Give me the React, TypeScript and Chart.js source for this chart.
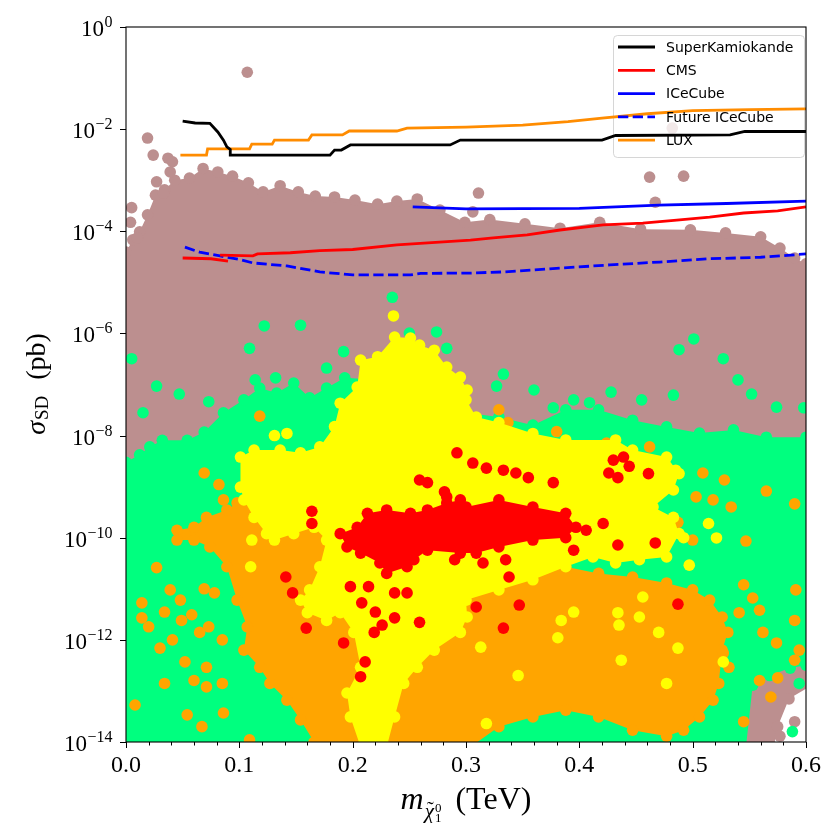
import React, { useEffect, useRef } from "react";
import { Chart, registerables } from "chart.js";
Chart.register(...registerables);

// ---------------- axis ----------------
const X_MIN = 0;
const X_MAX = 0.6;
const Y_MIN = 1e-14;
const Y_MAX = 1;
const xMajorTicks = [0, 0.1, 0.2, 0.3, 0.4, 0.5, 0.6];
const xTickLabels = ["0.0", "0.1", "0.2", "0.3", "0.4", "0.5", "0.6"];
const xMinorTicks = [0.02, 0.04, 0.06, 0.08, 0.12, 0.14, 0.16, 0.18, 0.22, 0.24, 0.26, 0.28, 0.32, 0.34, 0.36, 0.38, 0.42, 0.44, 0.46, 0.48, 0.52, 0.54, 0.56, 0.58];
const yTickExponents = [0, -2, -4, -6, -8, -10, -12, -14];

// ---------------- limit curves ----------------
const superKX = [0.05, 0.061, 0.074, 0.081, 0.086, 0.089, 0.092, 0.092, 0.18, 0.184, 0.19, 0.198, 0.286, 0.295, 0.42, 0.432, 0.533, 0.546, 0.6];
const superKY = [1.44e-2, 1.32e-2, 1.3e-2, 8.8e-3, 6.1e-3, 4.5e-3, 4e-3, 3.1e-3, 3.1e-3, 3.9e-3, 3.9e-3, 4.9e-3, 4.9e-3, 6.1e-3, 6.1e-3, 7.5e-3, 7.7e-3, 9.0e-3, 9.0e-3];

const cmsX1 = [0.05, 0.075, 0.09];
const cmsY1 = [3.0e-5, 2.9e-5, 2.6e-5];
const cmsX2 = [0.083, 0.112, 0.116, 0.145, 0.171, 0.2, 0.239, 0.304, 0.324, 0.354, 0.383, 0.421, 0.456, 0.486, 0.515, 0.545, 0.575, 0.6];
const cmsY2 = [3.4e-5, 3.3e-5, 3.6e-5, 3.8e-5, 4.2e-5, 4.4e-5, 5.4e-5, 6.7e-5, 7.4e-5, 8.5e-5, 1.06e-4, 1.33e-4, 1.45e-4, 1.66e-4, 1.9e-4, 2.28e-4, 2.5e-4, 3.0e-4];

const iceCubeX = [0.253, 0.3, 0.4, 0.47, 0.53, 0.6];
const iceCubeY = [3.0e-4, 2.75e-4, 2.8e-4, 3.25e-4, 3.5e-4, 3.9e-4];

const futureX = [0.052, 0.065, 0.083, 0.1, 0.112, 0.142, 0.171, 0.2, 0.251, 0.26, 0.304, 0.333, 0.383, 0.427, 0.471, 0.515, 0.56, 0.6];
const futureY = [4.9e-5, 3.9e-5, 3.3e-5, 2.8e-5, 2.4e-5, 2.1e-5, 1.6e-5, 1.4e-5, 1.4e-5, 1.5e-5, 1.52e-5, 1.6e-5, 1.9e-5, 2.2e-5, 2.5e-5, 2.9e-5, 3.1e-5, 3.6e-5];

const luxX = [0.048, 0.071, 0.072, 0.109, 0.111, 0.129, 0.131, 0.161, 0.164, 0.191, 0.197, 0.239, 0.248, 0.3, 0.35, 0.39, 0.42, 0.46, 0.5, 0.55, 0.6];
const luxY = [3.1e-3, 3.1e-3, 4.1e-3, 4.1e-3, 5.1e-3, 5.1e-3, 6.1e-3, 6.1e-3, 7.7e-3, 7.7e-3, 9.2e-3, 9.2e-3, 1.05e-2, 1.1e-2, 1.2e-2, 1.4e-2, 1.65e-2, 2.0e-2, 2.3e-2, 2.4e-2, 2.5e-2];

const legendLabels = ["SuperKamiokande", "CMS", "ICeCube", "Future ICeCube", "LUX"];

// ---------------- scan points: dense regions (outline points) ----------------
const brownEdgeX = [-0.01, -0.01, 0, 0.006, 0.012, 0.019, 0.026, 0.034, 0.043, 0.056, 0.068, 0.081, 0.094, 0.108, 0.121, 0.136, 0.152, 0.167, 0.184, 0.202, 0.222, 0.239, 0.257, 0.277, 0.299, 0.321, 0.352, 0.383, 0.418, 0.454, 0.498, 0.529, 0.56, 0.577, 0.59, 0.6, 0.61, 0.61, 0.585, 0.575, 0.57];
const brownEdgeY = [5e-15, 3.9e-5, 3.9e-5, 6.8e-5, 9.8e-5, 2.1e-4, 5.1e-4, 6.5e-4, 1.0e-3, 1.1e-3, 1.7e-3, 1.45e-3, 1.2e-3, 8.9e-4, 5.9e-4, 7.8e-4, 5.9e-4, 4.9e-4, 4.7e-4, 4.1e-4, 3.4e-4, 3.9e-4, 4.3e-4, 2.6e-4, 1.5e-4, 1.7e-4, 1.4e-4, 1.15e-4, 1.5e-4, 1.1e-4, 1.07e-4, 9.3e-5, 7.8e-5, 4.7e-5, 3.0e-5, 2.3e-5, 2.3e-5, 1.5e-13, 7e-14, 2e-14, 5e-15];
const brownDotX = [0.005, 0.004, 0.01, 0.019, 0.024, 0.027, 0.033, 0.037, 0.039, 0.041, 0.107, 0.311, 0.462, 0.492, 0.467, 0.482, 0.306, 0.59, 0.577];
const brownDotY = [2.9e-4, 1.5e-4, 7.4e-5, 6.7e-3, 3.1e-3, 9.3e-4, 5.6e-4, 2.7e-3, 1.45e-3, 2.3e-3, 0.13, 5.6e-4, 1.15e-3, 1.2e-3, 3.7e-4, 1.05e-2, 2.4e-4, 2.5e-14, 1.3e-14];

const greenEdgeX = [-0.01, -0.01, 0, 0.012, 0.021, 0.032, 0.054, 0.069, 0.086, 0.104, 0.118, 0.133, 0.148, 0.162, 0.177, 0.193, 0.224, 0.259, 0.286, 0.3, 0.329, 0.359, 0.388, 0.417, 0.447, 0.477, 0.506, 0.536, 0.565, 0.6, 0.61, 0.61, 0.6, 0.586, 0.568, 0.553, 0.546];
const greenEdgeY = [5e-15, 3.0e-9, 3.0e-9, 4.2e-9, 6.0e-9, 8.1e-9, 8.1e-9, 1.17e-8, 2.8e-8, 5.0e-8, 8.5e-8, 6.8e-8, 1.07e-7, 5.5e-8, 8.5e-8, 1.35e-7, 1.23e-7, 7.8e-8, 4.0e-8, 2.8e-8, 2.3e-8, 1.6e-8, 3.2e-8, 3.2e-8, 2.0e-8, 1.48e-8, 1.12e-8, 1.29e-8, 9.3e-9, 9.3e-9, 9.3e-9, 3.2e-13, 3.2e-13, 2.8e-13, 2.0e-13, 1.3e-13, 5e-15];
const greenDotX = [0.005, 0.027, 0.047, 0.073, 0.109, 0.122, 0.154, 0.132, 0.114, 0.177, 0.192, 0.274, 0.235, 0.25, 0.283, 0.015, 0.501, 0.488, 0.527, 0.54, 0.552, 0.574, 0.598, 0.483, 0.455, 0.409, 0.428, 0.395, 0.377, 0.36, 0.333, 0.327, 0.594, 0.588];
const greenDotY = [3.2e-7, 9.3e-8, 6.5e-8, 4.6e-8, 5.1e-7, 1.4e-6, 1.45e-6, 1.35e-7, 1.23e-7, 2.1e-7, 4.4e-7, 1.07e-6, 5.1e-6, 1.02e-6, 5.1e-7, 2.8e-8, 7.8e-7, 4.8e-7, 3.2e-7, 1.23e-7, 6.5e-8, 3.6e-8, 3.5e-8, 6.2e-8, 5.0e-8, 4.4e-8, 7.1e-8, 5.0e-8, 3.5e-8, 7.8e-8, 1.6e-7, 9.3e-8, 1.4e-13, 1.6e-14];

const orangeEdgeX = [0.045, 0.06, 0.071, 0.089, 0.098, 0.118, 0.148, 0.177, 0.192, 0.242, 0.3, 0.33, 0.359, 0.388, 0.417, 0.447, 0.477, 0.5, 0.515, 0.526, 0.531, 0.526, 0.523, 0.518, 0.506, 0.492, 0.477, 0.447, 0.417, 0.388, 0.359, 0.329, 0.304, 0.184, 0.166, 0.154, 0.142, 0.127, 0.118, 0.104, 0.107, 0.098, 0.089, 0.074, 0.06, 0.045];
const orangeEdgeY = [1.4e-10, 1.6e-10, 2.5e-10, 3.5e-10, 4.8e-10, 5.5e-10, 5.5e-10, 8.6e-10, 9.8e-10, 2.2e-10, 9.0e-11, 3.7e-11, 2.0e-11, 2.7e-11, 2.0e-11, 1.7e-11, 1.3e-11, 9.5e-12, 6.0e-12, 2.8e-12, 1.4e-12, 6.3e-13, 1.4e-13, 6.6e-14, 3.1e-14, 1.7e-14, 1.3e-14, 1.7e-14, 3.1e-14, 4.2e-14, 3.1e-14, 2.0e-14, 8e-15, 8e-15, 1.0e-14, 2.7e-14, 6.6e-14, 1.4e-13, 2.9e-13, 6.3e-13, 1.8e-12, 6.0e-12, 2.7e-11, 6.6e-11, 9.0e-11, 9.0e-11];
const orangeDotX = [0.509, 0.528, 0.565, 0.59, 0.503, 0.518, 0.534, 0.487, 0.547, 0.5, 0.545, 0.553, 0.559, 0.541, 0.591, 0.59, 0.594, 0.562, 0.574, 0.559, 0.569, 0.545, 0.532, 0.527, 0.575, 0.59, 0.329, 0.337, 0.38, 0.424, 0.462, 0.29, 0.069, 0.082, 0.086, 0.118, 0.027, 0.014, 0.014, 0.02, 0.034, 0.039, 0.048, 0.049, 0.058, 0.069, 0.078, 0.073, 0.065, 0.052, 0.041, 0.03, 0.071, 0.085, 0.008, 0.034, 0.06, 0.067, 0.086, 0.054, 0.109, 0.071, 0.085];
const orangeDotY = [1.85e-9, 1.35e-9, 8.2e-10, 4.6e-10, 6.3e-10, 5.5e-10, 4.0e-10, 2.0e-10, 8.6e-11, 9.0e-11, 1.2e-11, 6.6e-12, 3.8e-12, 3.4e-12, 9.5e-12, 2.4e-12, 6.3e-13, 1.4e-12, 8.7e-13, 1.6e-13, 7.6e-14, 2.5e-14, 2.9e-13, 5.5e-13, 1.8e-13, 4.0e-13, 3.2e-8, 1.8e-8, 1.2e-8, 7.1e-9, 6.0e-9, 1.5e-8, 1.85e-9, 1.1e-9, 5.5e-10, 2.4e-8, 2.6e-11, 5.3e-12, 2.7e-12, 1.8e-12, 3.5e-12, 9.5e-12, 6.0e-12, 2.4e-12, 3.1e-12, 1.0e-11, 8.3e-12, 1.8e-12, 1.4e-12, 3.7e-13, 1.0e-12, 6.9e-13, 2.9e-13, 1.0e-12, 5.3e-14, 1.4e-13, 1.6e-13, 2.0e-14, 3.7e-14, 3.4e-14, 1.1e-14, 1.2e-13, 1.4e-13];

const yellowEdgeX = [0.237, 0.251, 0.259, 0.272, 0.283, 0.295, 0.301, 0.3, 0.309, 0.329, 0.359, 0.388, 0.432, 0.447, 0.477, 0.488, 0.483, 0.465, 0.483, 0.488, 0.477, 0.453, 0.432, 0.412, 0.388, 0.359, 0.329, 0.3, 0.301, 0.295, 0.272, 0.257, 0.245, 0.237, 0.23, 0.207, 0.198, 0.195, 0.207, 0.201, 0.189, 0.177, 0.16, 0.154, 0.162, 0.171, 0.177, 0.166, 0.148, 0.131, 0.124, 0.113, 0.104, 0.101, 0.101, 0.113, 0.136, 0.154, 0.171, 0.184, 0.189, 0.204, 0.207, 0.222];
const yellowEdgeY = [8.5e-7, 8.1e-7, 5.9e-7, 4.7e-7, 2.2e-7, 1.4e-7, 7.8e-8, 5.0e-8, 2.3e-8, 1.8e-8, 1.1e-8, 8.2e-9, 8.2e-9, 5.2e-9, 3.8e-9, 1.8e-9, 8.6e-10, 4.0e-10, 2.5e-10, 1.2e-10, 4.2e-11, 3.7e-11, 3.2e-11, 4.2e-11, 2.7e-11, 1.5e-11, 9.5e-12, 6.0e-12, 2.8e-12, 1.4e-12, 6.3e-13, 2.9e-13, 1.4e-13, 3.1e-14, 8e-15, 8e-15, 3.1e-14, 9.1e-14, 2.9e-13, 1.4e-12, 3.4e-12, 2.4e-12, 3.4e-12, 6.0e-12, 9.5e-12, 2.7e-11, 9.0e-11, 1.6e-10, 1.2e-10, 9.0e-11, 1.2e-10, 2.5e-10, 5.5e-10, 9.8e-10, 3.8e-9, 5.2e-9, 5.2e-9, 4.6e-9, 6.0e-9, 1.5e-8, 4.3e-8, 8.9e-8, 3.0e-7, 3.5e-7];
const yellowDotX = [0.236, 0.131, 0.142, 0.11, 0.111, 0.485, 0.492, 0.514, 0.521, 0.497, 0.456, 0.434, 0.453, 0.435, 0.47, 0.487, 0.437, 0.477, 0.527, 0.395, 0.384, 0.381, 0.346, 0.313, 0.318];
const yellowDotY = [2.2e-6, 1.0e-8, 1.1e-8, 2.7e-11, 9.0e-11, 2.1e-9, 1.0e-10, 1.9e-10, 9.9e-11, 2.9e-11, 6.9e-12, 3.4e-12, 2.8e-12, 1.95e-12, 1.4e-12, 6.9e-13, 4.0e-13, 1.4e-13, 3.7e-13, 3.5e-12, 2.4e-12, 1.1e-12, 2.0e-13, 7.2e-13, 2.3e-14];

const redEdgeX = [0.189, 0.204, 0.213, 0.23, 0.251, 0.266, 0.283, 0.295, 0.3, 0.329, 0.359, 0.388, 0.397, 0.388, 0.359, 0.329, 0.309, 0.295, 0.266, 0.254, 0.248, 0.23, 0.224, 0.207, 0.195];
const redEdgeY = [1.2e-10, 1.6e-10, 3.0e-10, 3.5e-10, 3.0e-10, 3.5e-10, 4.8e-10, 5.5e-10, 4.0e-10, 5.5e-10, 4.0e-10, 3.0e-10, 1.6e-10, 1.0e-10, 9.0e-11, 6.6e-11, 5.0e-11, 5.0e-11, 5.7e-11, 3.7e-11, 2.7e-11, 2.0e-11, 3.2e-11, 5.0e-11, 6.6e-11];
const redDotX = [0.164, 0.164, 0.141, 0.147, 0.159, 0.192, 0.211, 0.207, 0.198, 0.208, 0.214, 0.22, 0.219, 0.226, 0.237, 0.259, 0.237, 0.248, 0.259, 0.266, 0.292, 0.281, 0.283, 0.29, 0.306, 0.318, 0.333, 0.344, 0.355, 0.377, 0.406, 0.395, 0.335, 0.315, 0.338, 0.309, 0.347, 0.333, 0.434, 0.467, 0.487, 0.43, 0.439, 0.444, 0.426, 0.434, 0.461, 0.421];
const redDotY = [3.3e-10, 1.9e-10, 1.7e-11, 8.3e-12, 1.7e-12, 8.7e-13, 3.7e-13, 1.9e-13, 1.1e-11, 5.3e-12, 1.1e-11, 3.5e-12, 1.4e-12, 1.95e-12, 2.7e-12, 2.2e-12, 8.3e-12, 8.3e-12, 1.35e-9, 1.2e-9, 4.6e-9, 7.9e-10, 6.3e-10, 3.7e-11, 2.9e-9, 2.3e-9, 2.1e-9, 1.85e-9, 1.5e-9, 1.2e-9, 1.4e-10, 5.7e-11, 3.7e-11, 3.2e-11, 1.7e-11, 4.4e-12, 4.8e-12, 1.7e-12, 7.2e-11, 7.9e-11, 5.0e-12, 3.3e-9, 3.8e-9, 2.5e-9, 1.85e-9, 1.5e-9, 1.8e-9, 1.9e-10];

// ---------------- helpers ----------------
const pts = (xs: number[], ys: number[]) => xs.map((x, i) => ({ x, y: ys[i] }));
const R = 5.8;
const BROWN = "#bc8f8f";
const GREEN = "#00ff7f";
const ORANGE = "#ffa500";
const YELLOW = "#ffff00";
const RED = "#ff0000";

function region(label: string, xs: number[], ys: number[], color: string, order: number) {
  return {
    type: "line" as const,
    label,
    data: pts(xs, ys),
    order,
    borderWidth: 0,
    borderColor: color,
    backgroundColor: color,
    fill: "shape",
    tension: 0,
    pointRadius: R,
    pointHoverRadius: R,
    pointBackgroundColor: color,
    pointBorderWidth: 0,
  };
}
function dots(label: string, xs: number[], ys: number[], color: string, order: number) {
  return {
    type: "scatter" as const,
    label,
    data: pts(xs, ys),
    order,
    pointRadius: R,
    pointHoverRadius: R,
    backgroundColor: color,
    borderWidth: 0,
  };
}
function curve(label: string, xs: number[], ys: number[], color: string, dash: number[] = []) {
  return {
    type: "line" as const,
    label,
    data: pts(xs, ys),
    order: 0,
    borderColor: color,
    borderWidth: 2.8,
    borderDash: dash,
    pointRadius: 0,
    fill: false,
    tension: 0,
  };
}

const legendStyles = [
  { color: "#000000", dash: [] as number[] },
  { color: "#ff0000", dash: [] as number[] },
  { color: "#0000ff", dash: [] as number[] },
  { color: "#0000ff", dash: [10.3, 4.4] },
  { color: "#ff8c00", dash: [] as number[] },
];

function roundRect(ctx: CanvasRenderingContext2D, x: number, y: number, w: number, h: number, r: number) {
  ctx.beginPath();
  ctx.moveTo(x + r, y);
  ctx.lineTo(x + w - r, y);
  ctx.quadraticCurveTo(x + w, y, x + w, y + r);
  ctx.lineTo(x + w, y + h - r);
  ctx.quadraticCurveTo(x + w, y + h, x + w - r, y + h);
  ctx.lineTo(x + r, y + h);
  ctx.quadraticCurveTo(x, y + h, x, y + h - r);
  ctx.lineTo(x, y + r);
  ctx.quadraticCurveTo(x, y, x + r, y);
  ctx.closePath();
}

function legendBox(chart: any) {
  const a = chart.chartArea;
  return { x: a.right - 193, y: a.top + 8, w: 191, h: 122 };
}

const decorPlugin = {
  id: "decor",
  afterDatasetDraw(chart: any, args: any) {
    const ds = chart.data.datasets[args.index];
    if (!ds || ds.label !== "red points") return;
    const ctx = chart.ctx as CanvasRenderingContext2D;
    const b = legendBox(chart);
    ctx.save();
    roundRect(ctx, b.x + 0.5, b.y + 0.5, b.w, b.h, 4);
    ctx.fillStyle = "rgba(255,255,255,0.8)";
    ctx.fill();
    ctx.strokeStyle = "rgba(204,204,204,0.8)";
    ctx.lineWidth = 1;
    ctx.stroke();
    ctx.restore();
  },
  afterDraw(chart: any) {
    const ctx = chart.ctx as CanvasRenderingContext2D;
    const a = chart.chartArea;
    const xs = chart.scales.x;
    const ys = chart.scales.y;
    ctx.save();
    // frame
    ctx.strokeStyle = "#000";
    ctx.lineWidth = 1.1;
    ctx.strokeRect(a.left, a.top, a.right - a.left, a.bottom - a.top);
    // x ticks
    ctx.lineWidth = 1;
    for (const v of xMajorTicks) {
      const px = Math.round(xs.getPixelForValue(v)) + 0.5;
      ctx.beginPath();
      ctx.moveTo(px, a.bottom);
      ctx.lineTo(px, a.bottom + 6);
      ctx.stroke();
    }
    for (const v of xMinorTicks) {
      const px = Math.round(xs.getPixelForValue(v)) + 0.5;
      ctx.beginPath();
      ctx.moveTo(px, a.bottom);
      ctx.lineTo(px, a.bottom + 3.5);
      ctx.stroke();
    }
    ctx.fillStyle = "#000";
    ctx.font = '24px "Liberation Serif"';
    ctx.textAlign = "center";
    ctx.textBaseline = "alphabetic";
    xMajorTicks.forEach((v, i) => {
      ctx.fillText(xTickLabels[i], xs.getPixelForValue(v), a.bottom + 30);
    });
    // y ticks
    for (const e of yTickExponents) {
      const py = Math.round(ys.getPixelForValue(Math.pow(10, e))) + 0.5;
      ctx.beginPath();
      ctx.moveTo(a.left - 6, py);
      ctx.lineTo(a.left, py);
      ctx.stroke();
      const sup = e === 0 ? "0" : "\u2212" + String(-e);
      ctx.textAlign = "left";
      ctx.font = '16px "Liberation Serif"';
      const ws = ctx.measureText(sup).width;
      ctx.font = '23px "Liberation Serif"';
      const wm = ctx.measureText("10").width;
      const right = a.left - 14;
      const x0 = right - ws - wm;
      ctx.fillText("10", x0, py + 8.5);
      ctx.font = '16px "Liberation Serif"';
      ctx.fillText(sup, x0 + wm + 0.5, py - 0.5);
    }
    // y label
    ctx.save();
    ctx.translate(45, 384);
    ctx.rotate(-Math.PI / 2);
    ctx.textAlign = "left";
    const f1 = 'italic 28px "Liberation Serif"';
    const f2 = '19px "Liberation Serif"';
    const f3 = '28px "Liberation Serif"';
    ctx.font = f1;
    const w1 = ctx.measureText("\u03c3").width;
    ctx.font = f2;
    const w2 = ctx.measureText("SD").width;
    ctx.font = f3;
    const w3 = ctx.measureText("(pb)").width;
    const gap = 16;
    const tot = w1 + 1 + w2 + gap + w3;
    let tx = -tot / 2;
    ctx.font = f1;
    ctx.fillText("\u03c3", tx, 0);
    tx += w1 + 1;
    ctx.font = f2;
    ctx.fillText("SD", tx, 3);
    tx += w2 + gap;
    ctx.font = f3;
    ctx.fillText("(pb)", tx, 0);
    ctx.restore();
    // x label
    {
      const base = 809;
      const fm = 'italic 32px "Liberation Serif"';
      const fc = 'italic 21px "Liberation Serif"';
      const fs = '13px "Liberation Serif"';
      const ft = '32px "Liberation Serif"';
      ctx.font = fm;
      const wm = ctx.measureText("m").width;
      ctx.font = fc;
      const wc = ctx.measureText("\u03c7").width;
      ctx.font = fs;
      const wsc = ctx.measureText("0").width;
      ctx.font = ft;
      const wt = ctx.measureText("(TeV)").width;
      const g = 14;
      const total = wm + 1 + wc + 1 + wsc + g + wt;
      let x = 466 - total / 2;
      ctx.textAlign = "left";
      ctx.font = fm;
      ctx.fillText("m", x, base);
      x += wm + 1;
      ctx.font = fc;
      ctx.fillText("\u03c7", x, base + 9);
      ctx.font = '21px "Liberation Serif"';
      ctx.textAlign = "center";
      ctx.fillText("\u02dc", x + wc / 2 + 1, base + 7);
      ctx.textAlign = "left";
      x += wc + 1;
      ctx.font = fs;
      ctx.fillText("0", x, base + 3);
      ctx.fillText("1", x, base + 13);
      x += wsc + g;
      ctx.font = ft;
      ctx.fillText("(TeV)", x, base);
    }
    // legend entries
    const b = legendBox(chart);
    ctx.font = '14px "DejaVu Sans"';
    ctx.textAlign = "left";
    ctx.textBaseline = "middle";
    legendLabels.forEach((lab, i) => {
      const yy = b.y + 12 + i * 23.3;
      const st = legendStyles[i];
      ctx.strokeStyle = st.color;
      ctx.lineWidth = 2.8;
      ctx.setLineDash(st.dash);
      ctx.beginPath();
      ctx.moveTo(b.x + 5, yy);
      ctx.lineTo(b.x + 42, yy);
      ctx.stroke();
      ctx.setLineDash([]);
      ctx.fillStyle = "#000";
      ctx.fillText(lab, b.x + 53, yy + 1);
    });
    ctx.restore();
  },
};

export default function App() {
  const ref = useRef<HTMLCanvasElement>(null);
  useEffect(() => {
    document.body.style.margin = "0";
    const canvas = ref.current!;
    const chart = new Chart(canvas, {
      type: "scatter",
      data: {
        datasets: [
          curve("SuperKamiokande", superKX, superKY, "#000000"),
          curve("CMS", cmsX1, cmsY1, "#ff0000"),
          curve("CMS b", cmsX2, cmsY2, "#ff0000"),
          curve("ICeCube", iceCubeX, iceCubeY, "#0000ff"),
          curve("Future ICeCube", futureX, futureY, "#0000ff", [10.3, 4.4]),
          curve("LUX", luxX, luxY, "#ff8c00"),
          dots("red points", redDotX, redDotY, RED, 1),
          region("red region", redEdgeX, redEdgeY, RED, 2),
          dots("yellow points", yellowDotX, yellowDotY, YELLOW, 3),
          region("yellow region", yellowEdgeX, yellowEdgeY, YELLOW, 4),
          dots("orange points", orangeDotX, orangeDotY, ORANGE, 5),
          region("orange region", orangeEdgeX, orangeEdgeY, ORANGE, 6),
          dots("green points", greenDotX, greenDotY, GREEN, 7),
          region("green region", greenEdgeX, greenEdgeY, GREEN, 8),
          dots("brown points", brownDotX, brownDotY, BROWN, 9),
          region("brown region", brownEdgeX, brownEdgeY, BROWN, 10),
        ] as any,
      },
      options: {
        animation: false,
        responsive: false,
        events: [],
        layout: { padding: { left: 0, right: 34, top: 27, bottom: 0 } },
        plugins: { legend: { display: false }, tooltip: { enabled: false } },
        scales: {
          x: {
            type: "linear",
            min: X_MIN,
            max: X_MAX,
            grid: { display: false },
            border: { display: false },
            ticks: { display: false },
            afterFit: (s: any) => {
              s.height = 98;
            },
          },
          y: {
            type: "logarithmic",
            min: Y_MIN,
            max: Y_MAX,
            grid: { display: false },
            border: { display: false },
            ticks: { display: false },
            afterFit: (s: any) => {
              s.width = 126;
            },
          },
        },
      } as any,
      plugins: [decorPlugin],
    });
    return () => chart.destroy();
  }, []);
  return (
    <div style={{ width: 840, height: 840, position: "relative" }}>
      <canvas ref={ref} width={840} height={840} style={{ display: "block" }} />
    </div>
  );
}
